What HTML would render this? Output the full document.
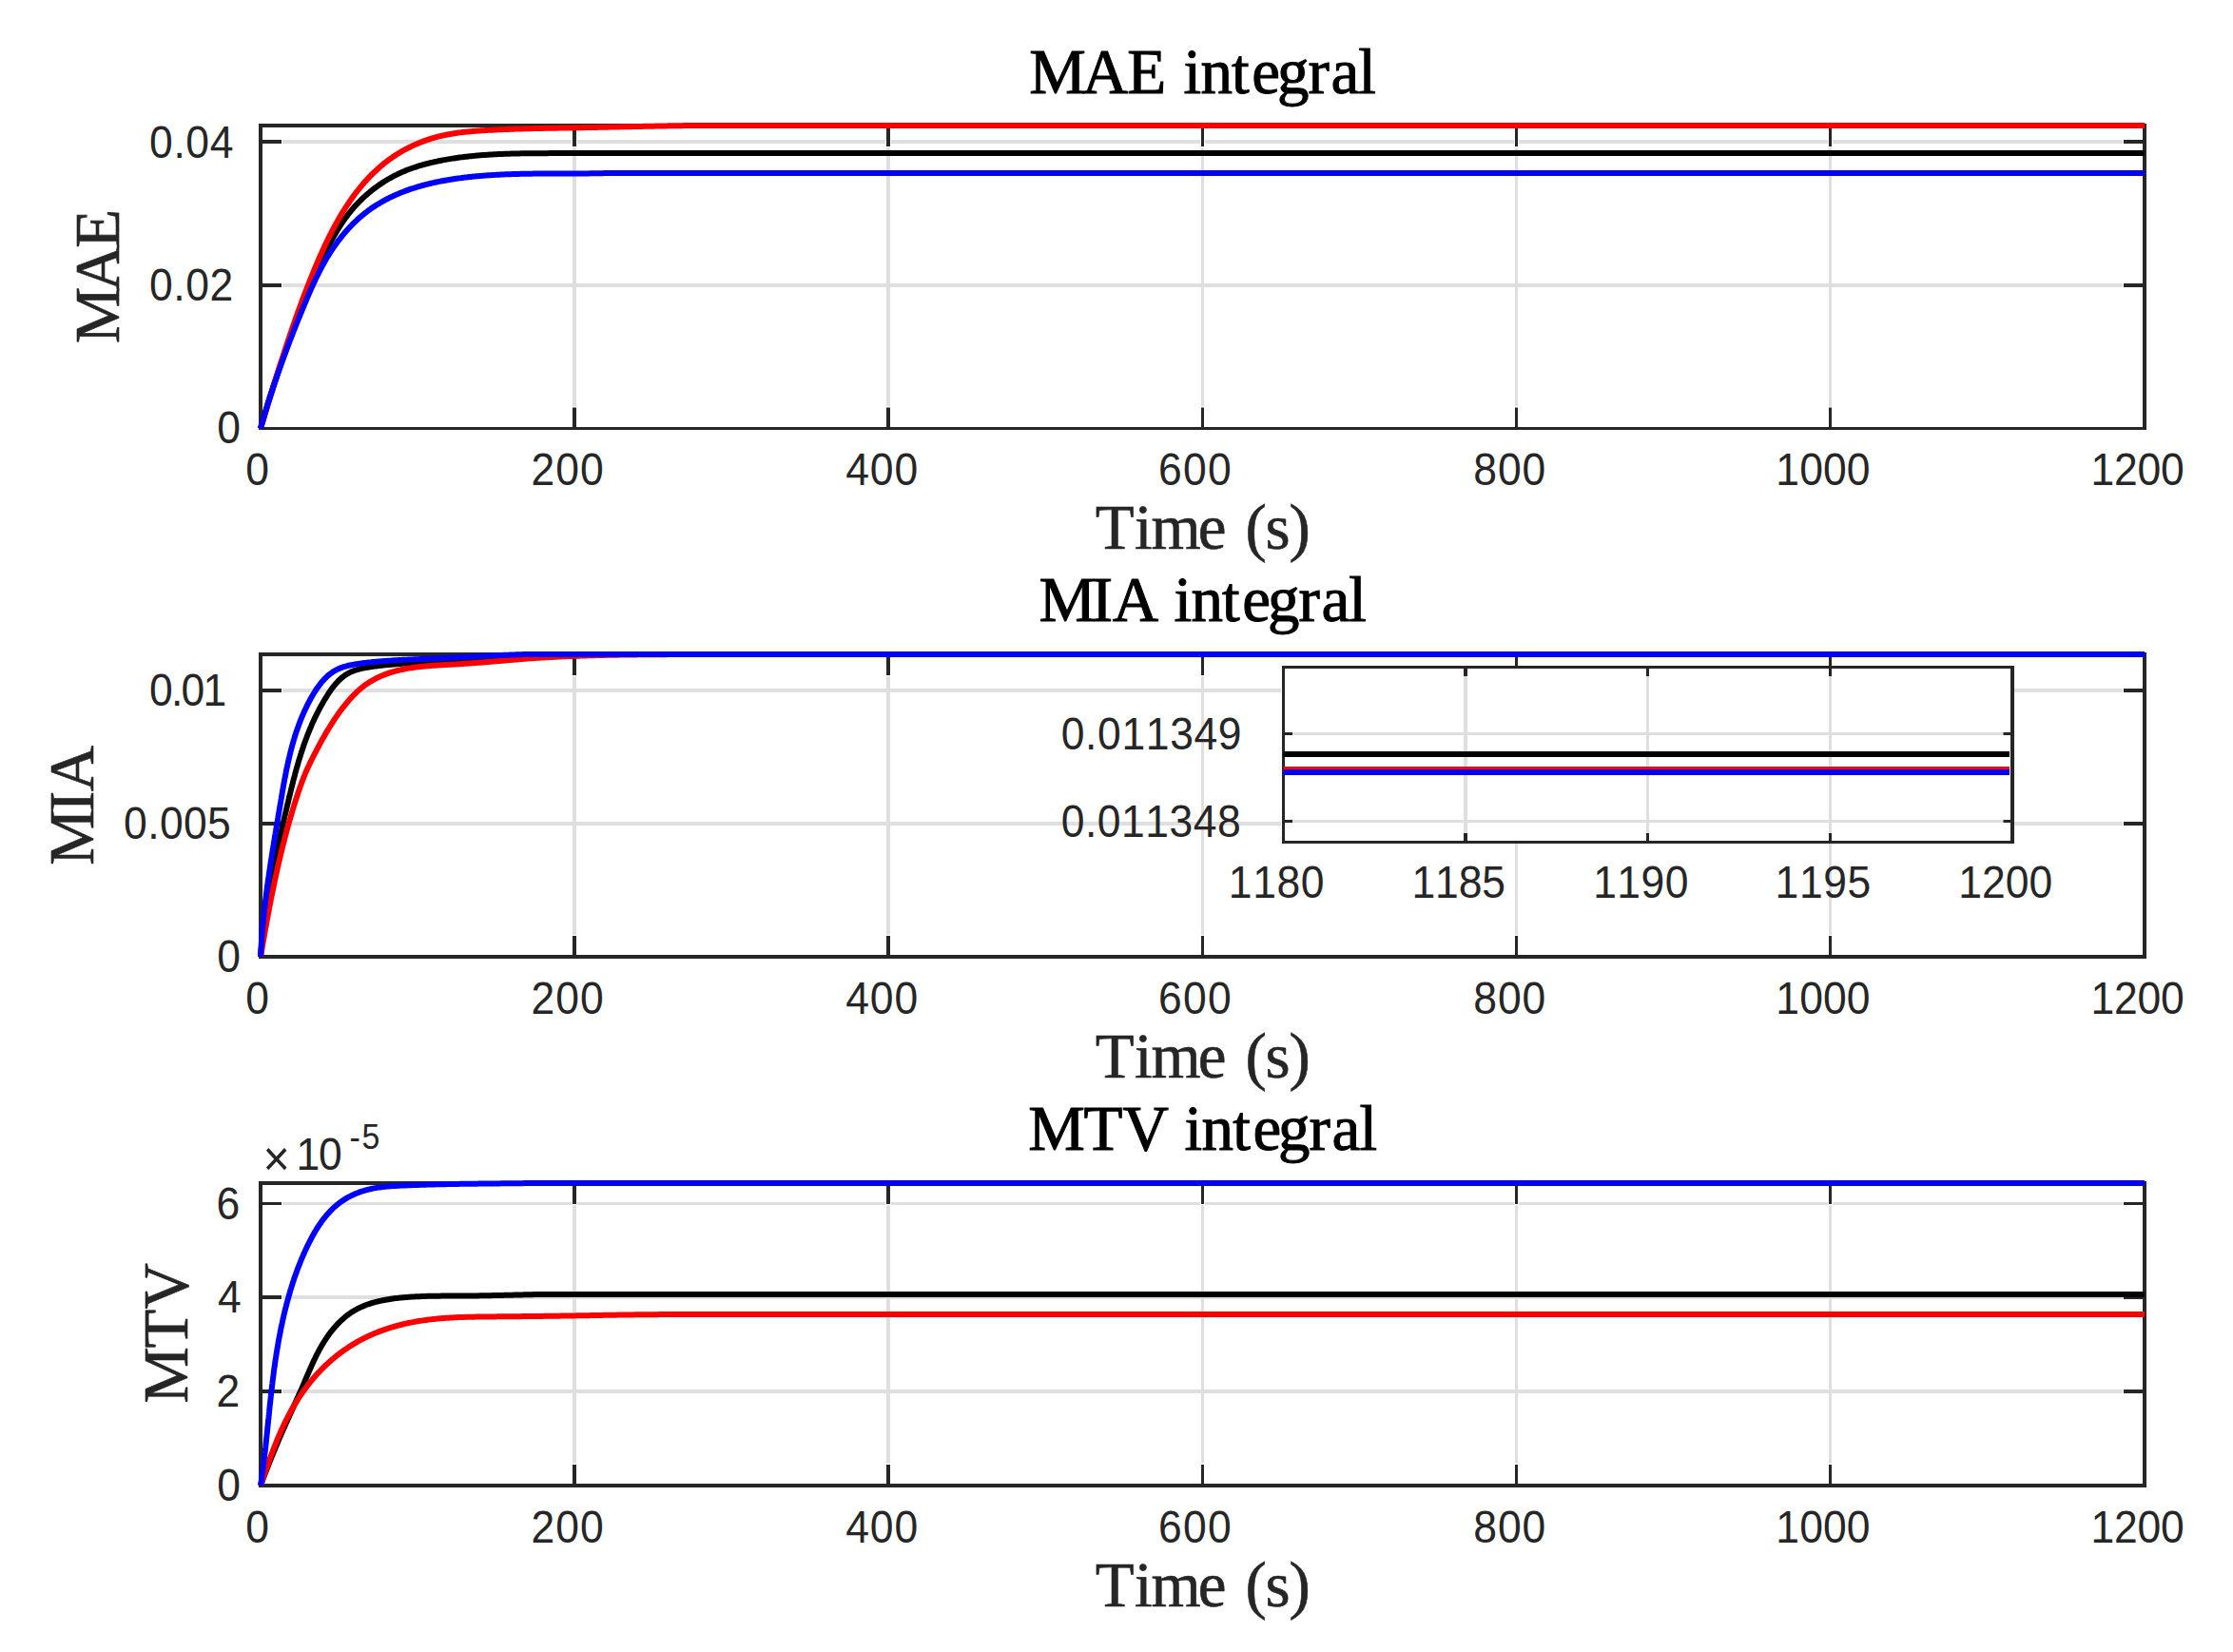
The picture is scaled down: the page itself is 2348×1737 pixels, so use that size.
<!DOCTYPE html>
<html lang="en"><head><meta charset="utf-8"><title>MAE / MIA / MTV integral</title>
<style>html,body{margin:0;padding:0;background:#fff}svg{display:block}</style></head>
<body>
<svg width="2348" height="1737" viewBox="0 0 2348 1737">
<rect width="2348" height="1737" fill="#fff"/>
<g id="ax1">
<path d="M1264.5,132V450.5 M1594.5,132V450.5 M1924.5,132V450.5" stroke="#dfdfdf" stroke-width="3" fill="none"/>
<path d="M604.0,132V450.5 M934.0,132V450.5 M274.0,300H2255.0 M274.0,149H2255.0" stroke="#dfdfdf" stroke-width="4" fill="none"/>
<path d="M1264.5,450.5v-23.2 M1264.5,132v23.2 M1594.5,450.5v-23.2 M1594.5,132v23.2 M1924.5,450.5v-23.2 M1924.5,132v23.2" stroke="#fff" stroke-width="4.6" fill="none"/>
<path d="M604.0,450.5v-23.2 M604.0,132v23.2 M934.0,450.5v-23.2 M934.0,132v23.2 M274.0,300h22.8 M2255.0,300h-22.8 M274.0,149h22.8 M2255.0,149h-22.8" stroke="#fff" stroke-width="5.6" fill="none"/>
<path d="M272.0,132H2257.0M274.0,132V452.0M2255.0,132V452.0" stroke="#262626" stroke-width="4" fill="none"/>
<path d="M272.0,450.5H2257.0" stroke="#262626" stroke-width="3" fill="none"/>
<path d="M1264.5,450.5v-22.0 M1264.5,132v22.0 M1594.5,450.5v-22.0 M1594.5,132v22.0 M1924.5,450.5v-22.0 M1924.5,132v22.0" stroke="#262626" stroke-width="3" fill="none"/>
<path d="M604.0,450.5v-22.0 M604.0,132v22.0 M934.0,450.5v-22.0 M934.0,132v22.0 M274.0,300h22.0 M2255.0,300h-22.0 M274.0,149h22.0 M2255.0,149h-22.0" stroke="#262626" stroke-width="4" fill="none"/>
<path d="M274.0,450.50 274.4,449.05 274.8,447.61 275.2,446.16 275.6,444.71 276.0,443.27 276.4,441.83 276.9,440.39 277.3,438.95 277.7,437.51 278.1,436.07 278.5,434.63 279.0,433.19 279.4,431.76 279.8,430.32 280.3,428.89 280.7,427.45 281.1,426.02 281.6,424.59 282.0,423.16 282.4,421.73 282.9,420.30 283.3,418.87 283.8,417.45 284.2,416.02 284.7,414.59 285.1,413.17 285.6,411.75 286.1,410.32 286.5,408.90 287.0,407.48 287.4,406.06 287.9,404.64 288.4,403.22 288.8,401.80 289.3,400.38 289.8,398.96 290.3,397.55 290.7,396.13 291.2,394.72 291.7,393.30 292.2,391.89 292.6,390.48 293.1,389.06 293.6,387.65 294.1,386.24 294.6,384.83 295.1,383.42 295.6,382.01 296.1,380.60 296.6,379.19 297.1,377.78 297.5,376.38 298.0,374.97 298.5,373.56 299.0,372.16 299.5,370.75 300.1,369.34 300.6,367.94 301.1,366.54 301.6,365.13 302.1,363.73 302.6,362.33 303.1,360.92 303.6,359.52 304.1,358.12 304.6,356.72 305.2,355.32 305.7,353.92 306.2,352.51 306.7,351.11 307.2,349.71 307.8,348.32 308.3,346.92 308.8,345.52 309.3,344.12 309.9,342.72 310.4,341.32 310.9,339.92 311.5,338.53 312.0,337.13 312.5,335.73 313.0,334.33 313.6,332.94 314.1,331.54 314.7,330.14 315.2,328.75 315.7,327.35 316.3,325.96 316.8,324.56 317.3,323.16 317.9,321.77 318.4,320.37 319.0,318.98 319.5,317.58 320.1,316.19 320.6,314.79 321.2,313.40 321.7,312.01 322.3,310.61 322.8,309.22 323.4,307.83 323.9,306.44 324.5,305.05 325.1,303.66 325.6,302.27 326.2,300.89 326.8,299.50 327.3,298.11 327.9,296.73 328.5,295.34 329.1,293.96 329.7,292.58 330.2,291.20 330.8,289.82 331.4,288.44 332.0,287.06 332.6,285.69 333.2,284.31 333.8,282.94 334.4,281.57 335.1,280.20 335.7,278.83 336.3,277.46 336.9,276.10 337.6,274.73 338.2,273.37 338.8,272.01 339.5,270.65 340.1,269.29 340.8,267.93 341.5,266.58 342.1,265.23 342.8,263.88 343.5,262.53 344.1,261.19 344.8,259.84 345.5,258.50 346.2,257.17 346.9,255.83 347.6,254.50 348.3,253.18 349.1,251.86 349.8,250.54 350.5,249.23 351.3,247.92 352.0,246.61 352.8,245.32 353.6,244.02 354.3,242.74 355.1,241.46 355.9,240.18 356.7,238.91 357.5,237.65 358.3,236.40 359.1,235.15 360.0,233.91 360.8,232.68 361.7,231.45 362.5,230.24 363.4,229.03 364.3,227.83 365.2,226.64 366.1,225.46 367.0,224.28 367.9,223.12 368.9,221.96 369.8,220.82 370.8,219.69 371.7,218.56 372.7,217.45 373.7,216.35 374.7,215.25 375.7,214.17 376.7,213.10 377.8,212.04 378.8,210.99 379.9,209.95 380.9,208.92 382.0,207.91 383.1,206.90 384.2,205.90 385.3,204.92 386.4,203.95 387.5,202.99 388.7,202.04 389.8,201.10 391.0,200.18 392.1,199.26 393.3,198.36 394.5,197.47 395.7,196.59 396.9,195.73 398.1,194.87 399.3,194.03 400.5,193.20 401.7,192.39 403.0,191.58 404.2,190.79 405.5,190.02 406.7,189.25 408.0,188.50 409.3,187.76 410.6,187.03 411.9,186.32 413.2,185.62 414.5,184.94 415.8,184.26 417.2,183.61 418.5,182.96 419.8,182.33 421.2,181.71 422.5,181.11 423.9,180.52 425.3,179.94 426.6,179.38 428.0,178.83 429.4,178.29 430.8,177.76 432.2,177.25 433.6,176.75 435.0,176.26 436.5,175.78 437.9,175.32 439.3,174.86 440.7,174.42 442.2,173.99 443.6,173.56 445.0,173.15 446.5,172.75 447.9,172.36 449.4,171.98 450.9,171.61 452.3,171.25 453.8,170.90 455.3,170.56 456.7,170.23 458.2,169.90 459.7,169.59 461.1,169.28 462.6,168.98 464.1,168.69 465.6,168.41 467.1,168.13 468.6,167.87 470.0,167.61 471.5,167.35 473.0,167.11 474.5,166.87 476.0,166.63 477.5,166.41 479.0,166.19 480.5,165.97 482.0,165.77 483.4,165.57 484.9,165.37 486.4,165.18 487.9,165.00 489.4,164.82 490.9,164.65 492.4,164.48 493.9,164.32 495.4,164.17 496.9,164.02 498.4,163.87 499.9,163.73 501.4,163.60 502.8,163.47 504.3,163.34 505.8,163.22 507.3,163.10 508.8,162.99 510.3,162.89 511.8,162.78 513.3,162.68 514.8,162.59 516.3,162.50 517.8,162.41 519.3,162.33 520.8,162.25 522.3,162.18 523.8,162.11 525.3,162.04 526.8,161.97 528.3,161.91 529.8,161.85 531.3,161.80 532.8,161.75 534.3,161.70 535.8,161.65 537.3,161.61 538.7,161.57 540.2,161.53 541.7,161.49 543.2,161.46 544.7,161.43 546.2,161.40 547.7,161.37 549.2,161.35 550.7,161.32 552.2,161.30 553.7,161.28 555.2,161.26 556.7,161.25 558.2,161.23 559.7,161.22 561.2,161.21 562.7,161.19 564.2,161.18 565.7,161.17 567.2,161.17 568.7,161.16 570.2,161.15 571.7,161.14 573.2,161.14 574.6,161.13 576.1,161.13 577.6,161.12 579.1,161.12 580.6,161.11 582.1,161.11 583.6,161.10 585.1,161.09 586.6,161.09 588.1,161.08 589.6,161.07 591.1,161.07 592.6,161.06 594.0,161.05 595.5,161.04 597.0,161.03 598.5,161.01 600.0,161.00 2255.0,161.00" stroke="#000" stroke-width="6" fill="none" stroke-linejoin="round"/>
<path d="M274.0,450.50 274.4,449.04 274.9,447.57 275.3,446.11 275.8,444.65 276.2,443.20 276.7,441.74 277.1,440.28 277.6,438.83 278.0,437.38 278.4,435.92 278.9,434.47 279.3,433.02 279.8,431.58 280.2,430.13 280.6,428.68 281.1,427.24 281.5,425.79 282.0,424.35 282.4,422.91 282.8,421.47 283.3,420.03 283.7,418.59 284.2,417.16 284.6,415.72 285.1,414.29 285.5,412.85 285.9,411.42 286.4,409.99 286.8,408.56 287.3,407.13 287.7,405.70 288.1,404.27 288.6,402.84 289.0,401.41 289.5,399.99 289.9,398.56 290.4,397.14 290.8,395.72 291.3,394.30 291.7,392.87 292.1,391.45 292.6,390.03 293.0,388.61 293.5,387.20 293.9,385.78 294.4,384.36 294.8,382.95 295.3,381.53 295.7,380.12 296.2,378.70 296.7,377.29 297.1,375.88 297.6,374.46 298.0,373.05 298.5,371.64 298.9,370.23 299.4,368.82 299.9,367.41 300.3,366.00 300.8,364.59 301.3,363.19 301.7,361.78 302.2,360.37 302.7,358.97 303.1,357.56 303.6,356.15 304.1,354.75 304.5,353.34 305.0,351.94 305.5,350.54 306.0,349.13 306.5,347.73 306.9,346.33 307.4,344.92 307.9,343.52 308.4,342.12 308.9,340.72 309.4,339.32 309.9,337.91 310.3,336.51 310.8,335.11 311.3,333.71 311.8,332.31 312.3,330.91 312.8,329.51 313.3,328.11 313.8,326.71 314.4,325.31 314.9,323.91 315.4,322.51 315.9,321.11 316.4,319.71 316.9,318.31 317.4,316.91 318.0,315.51 318.5,314.11 319.0,312.72 319.5,311.32 320.1,309.92 320.6,308.52 321.1,307.12 321.7,305.72 322.2,304.32 322.8,302.92 323.3,301.52 323.9,300.12 324.4,298.71 325.0,297.31 325.5,295.91 326.1,294.51 326.6,293.11 327.2,291.71 327.8,290.31 328.3,288.90 328.9,287.50 329.5,286.10 330.1,284.70 330.6,283.29 331.2,281.89 331.8,280.49 332.4,279.09 333.0,277.68 333.6,276.28 334.2,274.88 334.8,273.48 335.4,272.09 336.0,270.69 336.6,269.29 337.2,267.90 337.9,266.50 338.5,265.11 339.1,263.72 339.8,262.33 340.4,260.95 341.0,259.56 341.7,258.18 342.3,256.80 343.0,255.42 343.6,254.04 344.3,252.67 345.0,251.30 345.6,249.93 346.3,248.57 347.0,247.21 347.7,245.85 348.4,244.49 349.1,243.14 349.8,241.79 350.5,240.45 351.2,239.11 351.9,237.77 352.7,236.44 353.4,235.11 354.1,233.78 354.9,232.46 355.6,231.15 356.4,229.84 357.1,228.53 357.9,227.23 358.6,225.93 359.4,224.64 360.2,223.35 361.0,222.07 361.8,220.79 362.6,219.52 363.4,218.26 364.2,217.00 365.0,215.75 365.9,214.50 366.7,213.26 367.5,212.02 368.4,210.79 369.2,209.57 370.1,208.35 371.0,207.15 371.8,205.94 372.7,204.75 373.6,203.56 374.5,202.38 375.4,201.20 376.3,200.04 377.3,198.88 378.2,197.72 379.1,196.58 380.1,195.44 381.0,194.32 382.0,193.20 382.9,192.08 383.9,190.98 384.9,189.88 385.9,188.80 386.9,187.72 387.9,186.65 388.9,185.59 389.9,184.54 391.0,183.49 392.0,182.46 393.1,181.44 394.1,180.42 395.2,179.42 396.3,178.42 397.4,177.44 398.5,176.46 399.6,175.50 400.7,174.54 401.8,173.60 402.9,172.66 404.1,171.74 405.2,170.82 406.4,169.92 407.6,169.03 408.7,168.15 409.9,167.28 411.1,166.42 412.4,165.57 413.6,164.74 414.8,163.91 416.0,163.10 417.3,162.30 418.6,161.51 419.8,160.73 421.1,159.97 422.4,159.22 423.7,158.47 425.0,157.75 426.3,157.03 427.7,156.33 429.0,155.64 430.4,154.96 431.7,154.29 433.1,153.64 434.4,153.00 435.8,152.38 437.2,151.76 438.6,151.16 440.0,150.58 441.4,150.01 442.8,149.45 444.2,148.90 445.6,148.37 447.0,147.85 448.5,147.34 449.9,146.85 451.3,146.38 452.8,145.91 454.2,145.47 455.7,145.03 457.1,144.61 458.6,144.21 460.1,143.82 461.5,143.44 463.0,143.08 464.4,142.73 465.9,142.40 467.4,142.08 468.9,141.78 470.3,141.48 471.8,141.20 473.3,140.94 474.8,140.68 476.3,140.44 477.8,140.21 479.2,139.98 480.7,139.77 482.2,139.57 483.7,139.38 485.2,139.19 486.7,139.02 488.2,138.85 489.7,138.69 491.2,138.54 492.7,138.40 494.2,138.26 495.7,138.13 497.2,138.00 498.7,137.88 500.2,137.76 501.7,137.65 503.2,137.55 504.7,137.44 506.2,137.34 507.7,137.25 509.2,137.15 510.7,137.06 512.2,136.97 513.7,136.88 515.2,136.80 516.7,136.71 518.2,136.63 519.7,136.55 521.2,136.48 522.7,136.40 524.2,136.33 525.7,136.26 527.2,136.19 528.7,136.13 530.2,136.06 531.7,136.00 533.2,135.94 534.7,135.88 536.2,135.83 537.7,135.77 539.2,135.72 540.7,135.66 542.2,135.61 543.7,135.57 545.2,135.52 546.7,135.47 548.2,135.43 549.7,135.38 551.1,135.34 552.6,135.30 554.1,135.26 555.6,135.22 557.1,135.18 558.6,135.15 560.1,135.11 561.6,135.08 563.1,135.05 564.6,135.01 566.1,134.98 567.6,134.95 569.1,134.92 570.6,134.89 572.1,134.86 573.6,134.83 575.1,134.81 576.6,134.78 578.1,134.75 579.6,134.73 581.1,134.70 582.6,134.68 584.1,134.65 585.6,134.63 587.1,134.60 588.6,134.58 590.1,134.55 591.6,134.53 593.1,134.50 594.6,134.48 596.1,134.46 597.6,134.43 599.1,134.41 600.6,134.38 602.0,134.36 603.5,134.33 605.0,134.31 606.5,134.28 608.0,134.26 609.5,134.23 611.0,134.20 612.5,134.18 614.0,134.15 615.5,134.12 617.0,134.09 618.5,134.06 620.0,134.04 621.5,134.01 623.0,133.98 624.5,133.95 626.0,133.92 627.5,133.89 629.0,133.86 630.5,133.83 632.0,133.80 633.5,133.77 635.0,133.74 636.5,133.71 638.0,133.67 639.5,133.64 641.0,133.61 642.5,133.58 644.0,133.55 645.5,133.52 647.0,133.49 648.5,133.45 650.0,133.42 651.5,133.39 653.0,133.36 654.5,133.33 656.0,133.29 657.5,133.26 659.0,133.23 660.5,133.20 662.0,133.17 663.5,133.14 665.0,133.10 666.5,133.07 668.0,133.04 669.5,133.01 671.0,132.98 672.5,132.95 674.0,132.92 675.5,132.89 677.0,132.86 678.5,132.82 680.0,132.79 681.5,132.76 683.0,132.73 684.5,132.70 686.0,132.68 687.5,132.65 689.0,132.62 690.5,132.59 692.0,132.56 693.5,132.53 695.0,132.50 696.5,132.48 698.0,132.45 699.5,132.42 701.0,132.40 702.5,132.37 704.0,132.34 705.5,132.32 707.0,132.29 708.5,132.27 710.0,132.24 711.5,132.22 713.0,132.20 714.5,132.18 716.0,132.15 717.5,132.13 719.0,132.11 720.5,132.09 722.0,132.07 723.5,132.05 725.0,132.03 726.5,132.01 728.0,132.00 729.5,132.00 731.0,132.00 732.5,132.00 734.0,132.00 735.5,132.00 737.0,132.00 738.5,132.00 740.0,132.00 741.5,132.00 743.0,132.00 744.5,132.00 746.0,132.00 747.5,132.00 749.0,132.00 750.5,132.00 752.0,132.00 753.5,132.00 755.0,132.00 756.5,132.00 758.0,132.00 759.5,132.00 761.0,132.00 762.5,132.00 764.0,132.00 765.5,132.00 767.0,132.00 768.5,132.00 770.0,132.00 771.5,132.00 773.0,132.00 774.5,132.00 776.0,132.00 777.5,132.00 779.0,132.00 780.5,132.00 782.0,132.00 783.5,132.00 785.0,132.00 786.5,132.00 788.0,132.00 789.5,132.00 791.0,132.00 792.5,132.00 794.0,132.00 795.5,132.00 797.0,132.00 798.5,132.00 800.0,132.00 2255.0,132.00" stroke="#f00" stroke-width="6" fill="none" stroke-linejoin="round"/>
<path d="M274.0,450.50 274.4,449.05 274.8,447.61 275.2,446.16 275.7,444.72 276.1,443.28 276.5,441.84 276.9,440.40 277.4,438.96 277.8,437.52 278.2,436.08 278.6,434.65 279.1,433.21 279.5,431.78 280.0,430.35 280.4,428.91 280.8,427.48 281.3,426.05 281.7,424.62 282.2,423.20 282.6,421.77 283.1,420.34 283.5,418.92 284.0,417.49 284.4,416.07 284.9,414.64 285.4,413.22 285.8,411.80 286.3,410.38 286.8,408.96 287.2,407.54 287.7,406.13 288.2,404.71 288.7,403.29 289.1,401.88 289.6,400.46 290.1,399.05 290.6,397.64 291.1,396.22 291.5,394.81 292.0,393.40 292.5,391.99 293.0,390.58 293.5,389.17 294.0,387.77 294.5,386.36 295.0,384.95 295.5,383.55 296.0,382.14 296.5,380.74 297.0,379.33 297.5,377.93 298.0,376.53 298.5,375.13 299.0,373.72 299.6,372.32 300.1,370.92 300.6,369.52 301.1,368.12 301.6,366.73 302.2,365.33 302.7,363.93 303.2,362.53 303.7,361.14 304.3,359.74 304.8,358.35 305.3,356.95 305.9,355.56 306.4,354.16 307.0,352.77 307.5,351.38 308.0,349.99 308.6,348.60 309.1,347.20 309.7,345.81 310.2,344.42 310.8,343.03 311.3,341.64 311.9,340.25 312.4,338.86 313.0,337.48 313.6,336.09 314.1,334.70 314.7,333.31 315.3,331.93 315.8,330.54 316.4,329.15 317.0,327.77 317.5,326.38 318.1,325.00 318.7,323.61 319.3,322.23 319.8,320.84 320.4,319.46 321.0,318.07 321.6,316.69 322.2,315.30 322.7,313.92 323.3,312.54 323.9,311.16 324.5,309.78 325.1,308.40 325.7,307.02 326.3,305.64 326.9,304.27 327.5,302.90 328.1,301.52 328.8,300.15 329.4,298.79 330.0,297.42 330.7,296.06 331.3,294.70 331.9,293.34 332.6,291.98 333.2,290.63 333.9,289.28 334.6,287.93 335.2,286.59 335.9,285.25 336.6,283.92 337.3,282.58 338.0,281.25 338.7,279.93 339.4,278.61 340.2,277.29 340.9,275.98 341.6,274.67 342.4,273.37 343.1,272.07 343.9,270.78 344.7,269.49 345.5,268.21 346.3,266.93 347.1,265.66 347.9,264.39 348.7,263.13 349.5,261.88 350.4,260.63 351.2,259.39 352.1,258.16 353.0,256.93 353.9,255.71 354.7,254.50 355.6,253.29 356.6,252.09 357.5,250.90 358.4,249.72 359.4,248.55 360.3,247.38 361.3,246.23 362.2,245.08 363.2,243.94 364.2,242.81 365.2,241.69 366.2,240.59 367.2,239.49 368.2,238.40 369.3,237.32 370.3,236.25 371.4,235.19 372.4,234.15 373.5,233.11 374.6,232.09 375.7,231.08 376.8,230.08 377.9,229.09 379.0,228.11 380.1,227.15 381.2,226.20 382.4,225.26 383.5,224.34 384.7,223.43 385.9,222.53 387.0,221.64 388.2,220.77 389.4,219.92 390.6,219.07 391.8,218.24 393.0,217.42 394.3,216.62 395.5,215.83 396.8,215.05 398.0,214.28 399.3,213.53 400.5,212.79 401.8,212.06 403.1,211.34 404.4,210.64 405.7,209.95 407.0,209.26 408.3,208.60 409.6,207.94 410.9,207.29 412.3,206.66 413.6,206.04 414.9,205.42 416.3,204.82 417.6,204.23 419.0,203.66 420.4,203.09 421.7,202.53 423.1,201.99 424.5,201.45 425.9,200.92 427.3,200.41 428.7,199.90 430.1,199.41 431.5,198.92 432.9,198.45 434.3,197.98 435.7,197.53 437.2,197.08 438.6,196.64 440.0,196.22 441.5,195.80 442.9,195.39 444.4,194.99 445.8,194.60 447.3,194.21 448.7,193.84 450.2,193.47 451.7,193.11 453.1,192.77 454.6,192.42 456.1,192.09 457.5,191.77 459.0,191.45 460.5,191.14 462.0,190.84 463.5,190.54 465.0,190.26 466.5,189.98 468.0,189.71 469.4,189.44 470.9,189.18 472.4,188.93 473.9,188.69 475.4,188.45 476.9,188.22 478.4,187.99 480.0,187.77 481.5,187.56 483.0,187.36 484.5,187.16 486.0,186.96 487.5,186.77 489.0,186.59 490.5,186.41 492.0,186.24 493.5,186.08 495.0,185.91 496.5,185.76 498.0,185.61 499.6,185.46 501.1,185.32 502.6,185.18 504.1,185.05 505.6,184.92 507.1,184.80 508.6,184.68 510.1,184.57 511.6,184.46 513.1,184.35 514.6,184.25 516.1,184.15 517.6,184.05 519.1,183.96 520.6,183.87 522.1,183.79 523.6,183.71 525.1,183.63 526.5,183.56 528.0,183.49 529.5,183.42 531.0,183.36 532.5,183.30 534.0,183.24 535.5,183.18 537.0,183.13 538.5,183.08 540.0,183.04 541.4,182.99 542.9,182.95 544.4,182.91 545.9,182.88 547.4,182.84 548.9,182.81 550.4,182.78 551.8,182.75 553.3,182.72 554.8,182.70 556.3,182.68 557.8,182.66 559.3,182.64 560.7,182.62 562.2,182.61 563.7,182.59 565.2,182.58 566.7,182.57 568.2,182.56 569.7,182.55 571.1,182.54 572.6,182.53 574.1,182.53 575.6,182.52 577.1,182.52 578.6,182.51 580.0,182.51 581.5,182.51 583.0,182.50 584.5,182.50 586.0,182.50 587.5,182.50 589.0,182.50 590.5,182.50 591.9,182.50 593.4,182.49 594.9,182.49 596.4,182.49 597.9,182.49 599.4,182.49 600.9,182.48 602.4,182.48 603.9,182.48 605.4,182.47 606.9,182.47 608.4,182.46 609.9,182.45 611.4,182.45 612.9,182.44 614.3,182.43 615.9,182.41 617.4,182.40 618.9,182.39 620.4,182.37 621.9,182.35 623.4,182.33 624.9,182.31 626.4,182.29 627.9,182.27 629.4,182.24 630.9,182.21 632.4,182.18 633.9,182.15 635.4,182.12 637.0,182.08 638.5,182.04 640.0,182.00 2255.0,182.00" stroke="#00f" stroke-width="6" fill="none" stroke-linejoin="round"/>
</g>
<g id="ax2">
<path d="M1264.5,688V1006 M1594.5,688V1006 M1924.5,688V1006" stroke="#dfdfdf" stroke-width="3" fill="none"/>
<path d="M604.0,688V1006 M934.0,688V1006 M274.0,866H2255.0 M274.0,726H2255.0" stroke="#dfdfdf" stroke-width="4" fill="none"/>
<path d="M1264.5,1006v-23.2 M1264.5,688v23.2 M1594.5,1006v-23.2 M1594.5,688v23.2 M1924.5,1006v-23.2 M1924.5,688v23.2" stroke="#fff" stroke-width="4.6" fill="none"/>
<path d="M604.0,1006v-23.2 M604.0,688v23.2 M934.0,1006v-23.2 M934.0,688v23.2 M274.0,866h22.8 M2255.0,866h-22.8 M274.0,726h22.8 M2255.0,726h-22.8" stroke="#fff" stroke-width="5.6" fill="none"/>
<path d="M272.0,688H2257.0M274.0,688V1008.0M2255.0,688V1008.0" stroke="#262626" stroke-width="4" fill="none"/>
<path d="M272.0,1006H2257.0" stroke="#262626" stroke-width="4" fill="none"/>
<path d="M1264.5,1006v-22.0 M1264.5,688v22.0 M1594.5,1006v-22.0 M1594.5,688v22.0 M1924.5,1006v-22.0 M1924.5,688v22.0" stroke="#262626" stroke-width="3" fill="none"/>
<path d="M604.0,1006v-22.0 M604.0,688v22.0 M934.0,1006v-22.0 M934.0,688v22.0 M274.0,866h22.0 M2255.0,866h-22.0 M274.0,726h22.0 M2255.0,726h-22.0" stroke="#262626" stroke-width="4" fill="none"/>
<path d="M274.0,1006.00 274.1,1004.49 274.3,1002.99 274.4,1001.48 274.5,999.98 274.7,998.48 274.8,996.98 274.9,995.48 275.1,993.98 275.2,992.48 275.4,990.98 275.6,989.49 275.7,987.99 275.9,986.50 276.1,985.00 276.2,983.51 276.4,982.02 276.6,980.53 276.8,979.04 276.9,977.55 277.1,976.07 277.3,974.58 277.5,973.10 277.7,971.61 277.9,970.13 278.1,968.65 278.3,967.16 278.5,965.68 278.7,964.20 278.9,962.72 279.2,961.25 279.4,959.77 279.6,958.29 279.8,956.82 280.0,955.34 280.3,953.87 280.5,952.39 280.7,950.92 281.0,949.45 281.2,947.97 281.4,946.50 281.7,945.03 281.9,943.56 282.2,942.09 282.4,940.62 282.7,939.15 282.9,937.69 283.2,936.22 283.5,934.75 283.7,933.28 284.0,931.82 284.2,930.35 284.5,928.89 284.8,927.42 285.1,925.96 285.3,924.50 285.6,923.03 285.9,921.57 286.2,920.11 286.4,918.64 286.7,917.18 287.0,915.72 287.3,914.26 287.6,912.80 287.9,911.34 288.2,909.88 288.5,908.42 288.8,906.96 289.1,905.50 289.4,904.04 289.7,902.58 290.0,901.12 290.3,899.66 290.6,898.20 290.9,896.74 291.2,895.28 291.5,893.82 291.8,892.37 292.1,890.91 292.4,889.45 292.8,887.99 293.1,886.53 293.4,885.07 293.7,883.62 294.0,882.16 294.4,880.70 294.7,879.24 295.0,877.78 295.3,876.32 295.7,874.86 296.0,873.40 296.3,871.95 296.6,870.49 297.0,869.03 297.3,867.57 297.6,866.11 298.0,864.65 298.3,863.19 298.6,861.73 299.0,860.27 299.3,858.81 299.6,857.35 300.0,855.88 300.3,854.42 300.7,852.96 301.0,851.50 301.3,850.04 301.7,848.57 302.0,847.11 302.4,845.65 302.7,844.18 303.1,842.72 303.4,841.25 303.7,839.79 304.1,838.33 304.4,836.86 304.8,835.40 305.2,833.94 305.5,832.47 305.9,831.01 306.2,829.55 306.6,828.09 306.9,826.63 307.3,825.17 307.7,823.71 308.1,822.25 308.4,820.79 308.8,819.33 309.2,817.88 309.6,816.42 310.0,814.97 310.3,813.51 310.7,812.06 311.1,810.61 311.5,809.16 311.9,807.71 312.4,806.27 312.8,804.82 313.2,803.38 313.6,801.94 314.0,800.50 314.5,799.06 314.9,797.62 315.3,796.19 315.8,794.76 316.2,793.33 316.7,791.90 317.1,790.47 317.6,789.05 318.1,787.62 318.6,786.20 319.0,784.79 319.5,783.37 320.0,781.96 320.5,780.55 321.0,779.14 321.5,777.74 322.1,776.34 322.6,774.94 323.1,773.54 323.7,772.15 324.2,770.76 324.8,769.37 325.3,767.99 325.9,766.61 326.5,765.23 327.1,763.86 327.6,762.48 328.2,761.12 328.8,759.75 329.5,758.39 330.1,757.04 330.7,755.68 331.3,754.33 332.0,752.99 332.7,751.65 333.3,750.31 334.0,748.98 334.7,747.65 335.4,746.32 336.1,745.00 336.8,743.68 337.5,742.37 338.2,741.06 339.0,739.76 339.7,738.46 340.5,737.16 341.2,735.87 342.0,734.59 342.8,733.30 343.6,732.03 344.4,730.76 345.2,729.50 346.0,728.24 346.9,727.00 347.7,725.77 348.6,724.55 349.5,723.35 350.4,722.17 351.3,721.01 352.3,719.87 353.2,718.75 354.2,717.66 355.2,716.59 356.2,715.55 357.3,714.55 358.3,713.57 359.4,712.63 360.5,711.72 361.7,710.85 362.8,710.02 364.0,709.22 365.2,708.48 366.5,707.77 367.7,707.11 369.0,706.49 370.4,705.92 371.7,705.39 373.1,704.90 374.5,704.44 375.9,704.01 377.3,703.62 378.8,703.25 380.2,702.91 381.7,702.59 383.2,702.30 384.7,702.02 386.2,701.76 387.7,701.52 389.2,701.28 390.7,701.06 392.2,700.84 393.7,700.63 395.2,700.43 396.7,700.23 398.2,700.05 399.7,699.87 401.2,699.69 402.7,699.53 404.2,699.37 405.7,699.21 407.2,699.06 408.7,698.92 410.2,698.79 411.7,698.65 413.2,698.53 414.7,698.41 416.2,698.29 417.7,698.18 419.2,698.07 420.7,697.96 422.2,697.86 423.7,697.76 425.2,697.67 426.7,697.58 428.2,697.49 429.7,697.40 431.2,697.32 432.7,697.23 434.2,697.15 435.7,697.07 437.2,697.00 438.7,696.92 440.2,696.85 441.7,696.77 443.2,696.70 444.7,696.62 446.2,696.55 447.7,696.47 449.2,696.40 450.7,696.32 452.2,696.25 453.7,696.17 455.2,696.09 456.7,696.01 458.2,695.93 459.7,695.85 461.2,695.76 462.7,695.67 464.2,695.58 465.7,695.48 467.2,695.39 468.6,695.29 470.1,695.19 471.6,695.08 473.1,694.98 474.6,694.87 476.1,694.76 477.6,694.64 479.1,694.53 480.6,694.41 482.1,694.29 483.6,694.17 485.1,694.05 486.5,693.93 488.0,693.81 489.5,693.68 491.0,693.56 492.5,693.43 494.0,693.30 495.5,693.17 497.0,693.04 498.5,692.91 500.0,692.78 501.4,692.65 502.9,692.52 504.4,692.39 505.9,692.26 507.4,692.13 508.9,692.00 510.4,691.86 511.9,691.73 513.4,691.60 514.8,691.47 516.3,691.34 517.8,691.21 519.3,691.09 520.8,690.96 522.3,690.83 523.8,690.71 525.3,690.58 526.8,690.46 528.2,690.34 529.7,690.22 531.2,690.10 532.7,689.98 534.2,689.87 535.7,689.76 537.2,689.65 538.7,689.54 540.2,689.43 541.6,689.32 543.1,689.22 544.6,689.12 546.1,689.02 547.6,688.93 549.1,688.84 550.6,688.75 552.1,688.66 553.6,688.58 555.1,688.50 556.6,688.42 558.1,688.34 559.5,688.27 561.0,688.21 562.5,688.14 564.0,688.08 565.5,688.03 567.0,688.00 568.5,688.00 570.0,688.00 571.5,688.00 573.0,688.00 574.5,688.00 576.0,688.00 577.5,688.00 579.0,688.00 580.5,688.00 582.0,688.00 583.5,688.00 585.0,688.00 586.5,688.00 588.0,688.00 589.5,688.00 591.0,688.00 592.5,688.00 594.0,688.00 595.5,688.00 597.0,688.00 598.5,688.00 600.0,688.00 2255.0,688.00" stroke="#000" stroke-width="6" fill="none" stroke-linejoin="round"/>
<path d="M274.0,1006.00 274.3,1004.53 274.5,1003.05 274.8,1001.58 275.0,1000.11 275.3,998.63 275.5,997.16 275.8,995.68 276.0,994.21 276.3,992.74 276.5,991.26 276.8,989.79 277.0,988.31 277.3,986.84 277.6,985.36 277.8,983.89 278.1,982.42 278.3,980.94 278.6,979.47 278.9,977.99 279.1,976.52 279.4,975.05 279.7,973.57 279.9,972.10 280.2,970.63 280.5,969.15 280.7,967.68 281.0,966.21 281.3,964.73 281.6,963.26 281.8,961.79 282.1,960.32 282.4,958.84 282.7,957.37 282.9,955.90 283.2,954.43 283.5,952.96 283.8,951.48 284.1,950.01 284.4,948.54 284.6,947.07 284.9,945.60 285.2,944.13 285.5,942.66 285.8,941.19 286.1,939.72 286.4,938.25 286.7,936.79 287.0,935.32 287.3,933.85 287.6,932.38 287.9,930.92 288.2,929.45 288.5,927.98 288.8,926.52 289.1,925.05 289.5,923.59 289.8,922.12 290.1,920.66 290.4,919.19 290.7,917.73 291.1,916.27 291.4,914.81 291.7,913.34 292.0,911.88 292.4,910.42 292.7,908.96 293.0,907.50 293.4,906.04 293.7,904.58 294.0,903.13 294.4,901.67 294.7,900.21 295.1,898.76 295.4,897.30 295.8,895.84 296.1,894.39 296.5,892.94 296.9,891.48 297.2,890.03 297.6,888.58 297.9,887.13 298.3,885.67 298.7,884.22 299.1,882.78 299.4,881.33 299.8,879.88 300.2,878.43 300.6,876.98 301.0,875.54 301.3,874.09 301.7,872.65 302.1,871.21 302.5,869.76 302.9,868.32 303.3,866.88 303.7,865.44 304.1,864.00 304.5,862.56 305.0,861.12 305.4,859.69 305.8,858.25 306.2,856.82 306.6,855.38 307.1,853.95 307.5,852.51 307.9,851.08 308.4,849.65 308.8,848.22 309.2,846.79 309.7,845.36 310.1,843.94 310.6,842.51 311.0,841.09 311.5,839.66 312.0,838.24 312.4,836.82 312.9,835.40 313.4,833.98 313.8,832.56 314.3,831.14 314.8,829.72 315.3,828.31 315.8,826.90 316.3,825.49 316.8,824.08 317.3,822.67 317.8,821.27 318.3,819.88 318.9,818.48 319.4,817.09 320.0,815.71 320.6,814.33 321.1,812.95 321.7,811.58 322.3,810.21 322.9,808.85 323.6,807.49 324.2,806.14 324.8,804.78 325.5,803.44 326.1,802.09 326.8,800.75 327.4,799.40 328.1,798.06 328.8,796.72 329.4,795.39 330.1,794.05 330.8,792.72 331.5,791.38 332.2,790.05 332.9,788.72 333.6,787.40 334.3,786.07 335.0,784.75 335.7,783.43 336.4,782.12 337.1,780.80 337.8,779.49 338.5,778.18 339.3,776.87 340.0,775.57 340.8,774.27 341.5,772.97 342.2,771.67 343.0,770.38 343.8,769.09 344.5,767.81 345.3,766.53 346.1,765.25 346.9,763.97 347.7,762.70 348.4,761.43 349.3,760.17 350.1,758.91 350.9,757.66 351.7,756.41 352.5,755.17 353.4,753.93 354.2,752.70 355.1,751.47 355.9,750.25 356.8,749.03 357.7,747.82 358.6,746.62 359.5,745.43 360.4,744.24 361.3,743.06 362.2,741.88 363.2,740.72 364.1,739.56 365.1,738.41 366.1,737.27 367.0,736.13 368.0,735.01 369.1,733.89 370.1,732.79 371.1,731.69 372.2,730.61 373.2,729.54 374.3,728.48 375.4,727.44 376.5,726.42 377.6,725.41 378.7,724.43 379.9,723.46 381.1,722.51 382.2,721.59 383.4,720.69 384.6,719.81 385.9,718.96 387.1,718.13 388.4,717.33 389.6,716.55 390.9,715.79 392.2,715.05 393.5,714.34 394.8,713.65 396.1,712.98 397.4,712.33 398.8,711.71 400.1,711.10 401.5,710.52 402.8,709.96 404.2,709.42 405.6,708.90 406.9,708.40 408.3,707.91 409.7,707.45 411.1,707.00 412.5,706.58 413.9,706.16 415.3,705.77 416.7,705.39 418.2,705.03 419.6,704.68 421.0,704.35 422.5,704.03 423.9,703.73 425.4,703.44 426.8,703.16 428.3,702.90 429.7,702.65 431.2,702.41 432.7,702.18 434.2,701.96 435.6,701.76 437.1,701.56 438.6,701.37 440.1,701.20 441.6,701.03 443.1,700.87 444.6,700.72 446.1,700.57 447.6,700.44 449.1,700.30 450.6,700.18 452.1,700.06 453.6,699.95 455.1,699.84 456.6,699.74 458.1,699.64 459.6,699.54 461.1,699.45 462.7,699.36 464.2,699.27 465.7,699.19 467.2,699.11 468.7,699.02 470.2,698.94 471.7,698.86 473.3,698.78 474.8,698.69 476.3,698.61 477.8,698.52 479.3,698.44 480.8,698.35 482.3,698.25 483.8,698.16 485.3,698.06 486.8,697.96 488.3,697.86 489.9,697.76 491.4,697.65 492.9,697.55 494.4,697.44 495.9,697.33 497.3,697.22 498.8,697.10 500.3,696.99 501.8,696.87 503.3,696.76 504.8,696.64 506.3,696.52 507.8,696.40 509.3,696.28 510.8,696.16 512.3,696.03 513.8,695.91 515.3,695.79 516.7,695.66 518.2,695.54 519.7,695.41 521.2,695.29 522.7,695.16 524.2,695.04 525.7,694.91 527.2,694.78 528.6,694.66 530.1,694.53 531.6,694.41 533.1,694.28 534.6,694.16 536.1,694.03 537.5,693.91 539.0,693.78 540.5,693.66 542.0,693.54 543.5,693.42 545.0,693.30 546.5,693.18 547.9,693.06 549.4,692.95 550.9,692.83 552.4,692.72 553.9,692.60 555.4,692.49 556.9,692.38 558.3,692.28 559.8,692.17 561.3,692.07 562.8,691.96 564.3,691.86 565.8,691.76 567.3,691.67 568.8,691.57 570.3,691.48 571.7,691.39 573.2,691.30 574.7,691.21 576.2,691.13 577.7,691.04 579.2,690.96 580.7,690.88 582.2,690.80 583.7,690.72 585.2,690.65 586.7,690.57 588.2,690.50 589.7,690.43 591.2,690.36 592.7,690.29 594.2,690.22 595.6,690.16 597.1,690.10 598.6,690.03 600.1,689.97 601.6,689.91 603.1,689.86 604.6,689.80 606.1,689.74 607.6,689.69 609.1,689.64 610.6,689.59 612.1,689.54 613.6,689.49 615.1,689.44 616.6,689.40 618.1,689.35 619.6,689.31 621.1,689.26 622.6,689.22 624.1,689.18 625.6,689.14 627.1,689.10 628.6,689.07 630.1,689.03 631.6,689.00 633.1,688.96 634.6,688.93 636.1,688.90 637.6,688.87 639.1,688.84 640.6,688.81 642.1,688.78 643.6,688.75 645.1,688.72 646.6,688.70 648.1,688.67 649.6,688.65 651.2,688.62 652.7,688.60 654.2,688.58 655.7,688.56 657.2,688.53 658.7,688.51 660.2,688.49 661.7,688.48 663.2,688.46 664.7,688.44 666.2,688.42 667.7,688.41 669.2,688.39 670.7,688.37 672.2,688.36 673.7,688.34 675.2,688.33 676.7,688.31 678.2,688.30 679.7,688.29 681.2,688.27 682.6,688.26 684.1,688.25 685.6,688.24 687.1,688.23 688.6,688.22 690.1,688.20 691.6,688.19 693.1,688.18 694.6,688.17 696.1,688.16 697.6,688.15 699.1,688.14 700.6,688.13 702.1,688.12 703.6,688.11 705.1,688.10 706.6,688.09 708.1,688.08 709.6,688.07 711.1,688.06 712.5,688.05 714.0,688.04 715.5,688.03 717.0,688.02 718.5,688.01 720.0,688.00 2255.0,688.00" stroke="#f00" stroke-width="6" fill="none" stroke-linejoin="round"/>
<path d="M274.0,1006.00 274.1,1004.49 274.1,1002.98 274.2,1001.47 274.3,999.96 274.4,998.45 274.5,996.95 274.6,995.44 274.7,993.94 274.8,992.44 274.9,990.94 275.0,989.43 275.1,987.94 275.2,986.44 275.3,984.94 275.4,983.44 275.5,981.95 275.7,980.45 275.8,978.96 275.9,977.46 276.0,975.97 276.2,974.48 276.3,972.99 276.5,971.50 276.6,970.01 276.7,968.52 276.9,967.03 277.0,965.55 277.2,964.06 277.3,962.57 277.5,961.09 277.7,959.60 277.8,958.12 278.0,956.64 278.2,955.15 278.3,953.67 278.5,952.19 278.7,950.71 278.9,949.23 279.0,947.75 279.2,946.27 279.4,944.79 279.6,943.32 279.8,941.84 280.0,940.36 280.1,938.88 280.3,937.41 280.5,935.93 280.7,934.46 280.9,932.98 281.1,931.50 281.3,930.03 281.5,928.56 281.7,927.08 281.9,925.61 282.2,924.13 282.4,922.66 282.6,921.19 282.8,919.71 283.0,918.24 283.2,916.77 283.4,915.30 283.7,913.82 283.9,912.35 284.1,910.88 284.3,909.41 284.5,907.94 284.8,906.47 285.0,904.99 285.2,903.52 285.5,902.05 285.7,900.58 285.9,899.11 286.1,897.63 286.4,896.16 286.6,894.69 286.8,893.22 287.1,891.75 287.3,890.27 287.6,888.80 287.8,887.33 288.0,885.86 288.3,884.38 288.5,882.91 288.8,881.44 289.0,879.96 289.2,878.49 289.5,877.01 289.7,875.54 290.0,874.06 290.2,872.59 290.5,871.11 290.7,869.64 291.0,868.16 291.2,866.68 291.4,865.21 291.7,863.73 291.9,862.25 292.2,860.77 292.4,859.29 292.7,857.81 292.9,856.33 293.2,854.85 293.4,853.37 293.7,851.89 293.9,850.41 294.2,848.92 294.4,847.44 294.7,845.96 294.9,844.47 295.2,842.99 295.4,841.50 295.7,840.02 295.9,838.53 296.2,837.04 296.4,835.56 296.7,834.07 296.9,832.59 297.2,831.10 297.4,829.62 297.7,828.13 298.0,826.65 298.2,825.16 298.5,823.68 298.8,822.20 299.0,820.72 299.3,819.23 299.6,817.75 299.9,816.27 300.2,814.79 300.5,813.32 300.7,811.84 301.0,810.36 301.3,808.89 301.6,807.42 302.0,805.94 302.3,804.47 302.6,803.00 302.9,801.54 303.2,800.07 303.6,798.61 303.9,797.14 304.3,795.68 304.6,794.22 305.0,792.77 305.3,791.31 305.7,789.86 306.1,788.41 306.4,786.96 306.8,785.51 307.2,784.07 307.6,782.63 308.0,781.19 308.4,779.75 308.8,778.32 309.3,776.89 309.7,775.46 310.1,774.03 310.6,772.61 311.1,771.19 311.5,769.77 312.0,768.36 312.5,766.95 313.0,765.54 313.5,764.14 314.0,762.74 314.5,761.34 315.0,759.94 315.6,758.55 316.1,757.17 316.7,755.78 317.2,754.40 317.8,753.03 318.4,751.66 319.0,750.29 319.6,748.92 320.2,747.57 320.8,746.21 321.4,744.86 322.1,743.51 322.8,742.17 323.4,740.83 324.1,739.50 324.8,738.17 325.5,736.84 326.2,735.52 326.9,734.21 327.7,732.90 328.4,731.59 329.2,730.29 330.0,729.00 330.8,727.72 331.6,726.45 332.4,725.19 333.2,723.94 334.1,722.71 335.0,721.49 335.9,720.30 336.8,719.12 337.7,717.96 338.6,716.83 339.6,715.72 340.6,714.63 341.6,713.57 342.6,712.54 343.6,711.54 344.7,710.57 345.8,709.63 346.9,708.73 348.1,707.86 349.2,707.03 350.4,706.24 351.6,705.49 352.9,704.78 354.1,704.11 355.4,703.49 356.7,702.90 358.1,702.36 359.4,701.85 360.8,701.37 362.2,700.93 363.7,700.52 365.1,700.13 366.5,699.78 368.0,699.45 369.5,699.14 371.0,698.85 372.5,698.58 374.0,698.33 375.5,698.09 377.0,697.87 378.5,697.66 380.0,697.46 381.5,697.26 383.0,697.07 384.5,696.89 386.0,696.72 387.6,696.55 389.1,696.38 390.6,696.23 392.1,696.07 393.6,695.93 395.1,695.78 396.6,695.65 398.1,695.51 399.6,695.39 401.1,695.26 402.6,695.15 404.1,695.03 405.6,694.92 407.1,694.82 408.6,694.71 410.1,694.62 411.6,694.52 413.1,694.43 414.6,694.34 416.1,694.25 417.6,694.17 419.1,694.09 420.6,694.01 422.1,693.94 423.6,693.87 425.1,693.79 426.6,693.73 428.1,693.66 429.6,693.59 431.1,693.53 432.6,693.47 434.1,693.40 435.6,693.34 437.1,693.28 438.6,693.22 440.1,693.16 441.6,693.10 443.1,693.05 444.6,692.99 446.1,692.93 447.6,692.87 449.0,692.81 450.5,692.75 452.0,692.69 453.5,692.63 455.0,692.56 456.5,692.50 458.0,692.43 459.5,692.37 461.0,692.30 462.5,692.23 464.0,692.16 465.5,692.09 467.0,692.02 468.5,691.94 470.0,691.87 471.4,691.80 472.9,691.72 474.4,691.65 475.9,691.57 477.4,691.50 478.9,691.42 480.4,691.34 481.9,691.26 483.4,691.18 484.9,691.11 486.4,691.03 487.9,690.95 489.4,690.87 490.9,690.79 492.3,690.71 493.8,690.63 495.3,690.55 496.8,690.47 498.3,690.39 499.8,690.32 501.3,690.24 502.8,690.16 504.3,690.08 505.8,690.00 507.3,689.93 508.8,689.85 510.3,689.77 511.8,689.70 513.2,689.62 514.7,689.55 516.2,689.48 517.7,689.40 519.2,689.33 520.7,689.26 522.2,689.19 523.7,689.12 525.2,689.05 526.7,688.98 528.2,688.92 529.7,688.85 531.2,688.79 532.7,688.73 534.2,688.67 535.7,688.61 537.1,688.55 538.6,688.49 540.1,688.44 541.6,688.38 543.1,688.33 544.6,688.28 546.1,688.23 547.6,688.18 549.1,688.14 550.6,688.09 552.1,688.05 553.6,688.01 555.1,688.00 556.6,688.00 558.1,688.00 559.6,688.00 561.1,688.00 562.6,688.00 564.1,688.00 565.6,688.00 567.1,688.00 568.5,688.00 570.0,688.00 571.5,688.00 573.0,688.00 574.5,688.00 576.0,688.00 577.5,688.00 579.0,688.00 580.5,688.00 582.0,688.00 583.5,688.00 585.0,688.00 586.5,688.00 588.0,688.00 589.5,688.00 591.0,688.00 592.5,688.00 594.0,688.00 595.5,688.00 597.0,688.00 598.5,688.00 600.0,688.00 2255.0,688.00" stroke="#00f" stroke-width="6" fill="none" stroke-linejoin="round"/>
</g>
<g id="ax3">
<path d="M1264.5,1244V1562 M1594.5,1244V1562 M1924.5,1244V1562 M274.0,1265.5H2255.0" stroke="#dfdfdf" stroke-width="3" fill="none"/>
<path d="M604.0,1244V1562 M934.0,1244V1562 M274.0,1463H2255.0 M274.0,1364H2255.0" stroke="#dfdfdf" stroke-width="4" fill="none"/>
<path d="M1264.5,1562v-23.2 M1264.5,1244v23.2 M1594.5,1562v-23.2 M1594.5,1244v23.2 M1924.5,1562v-23.2 M1924.5,1244v23.2 M274.0,1265.5h22.8 M2255.0,1265.5h-22.8" stroke="#fff" stroke-width="4.6" fill="none"/>
<path d="M604.0,1562v-23.2 M604.0,1244v23.2 M934.0,1562v-23.2 M934.0,1244v23.2 M274.0,1463h22.8 M2255.0,1463h-22.8 M274.0,1364h22.8 M2255.0,1364h-22.8" stroke="#fff" stroke-width="5.6" fill="none"/>
<path d="M272.0,1244H2257.0M274.0,1244V1564.0M2255.0,1244V1564.0" stroke="#262626" stroke-width="4" fill="none"/>
<path d="M272.0,1562H2257.0" stroke="#262626" stroke-width="4" fill="none"/>
<path d="M1264.5,1562v-22.0 M1264.5,1244v22.0 M1594.5,1562v-22.0 M1594.5,1244v22.0 M1924.5,1562v-22.0 M1924.5,1244v22.0 M274.0,1265.5h22.0 M2255.0,1265.5h-22.0" stroke="#262626" stroke-width="3" fill="none"/>
<path d="M604.0,1562v-22.0 M604.0,1244v22.0 M934.0,1562v-22.0 M934.0,1244v22.0 M274.0,1463h22.0 M2255.0,1463h-22.0 M274.0,1364h22.0 M2255.0,1364h-22.0" stroke="#262626" stroke-width="4" fill="none"/>
<path d="M274.0,1562.00 274.5,1560.59 275.0,1559.18 275.6,1557.77 276.1,1556.36 276.6,1554.95 277.1,1553.55 277.7,1552.14 278.2,1550.74 278.7,1549.33 279.3,1547.93 279.8,1546.53 280.4,1545.13 280.9,1543.73 281.5,1542.33 282.0,1540.93 282.6,1539.53 283.1,1538.14 283.7,1536.74 284.2,1535.35 284.8,1533.96 285.4,1532.57 285.9,1531.18 286.5,1529.79 287.1,1528.40 287.6,1527.01 288.2,1525.63 288.8,1524.25 289.3,1522.86 289.9,1521.48 290.5,1520.10 291.1,1518.73 291.7,1517.35 292.3,1515.97 292.8,1514.60 293.4,1513.23 294.0,1511.85 294.6,1510.48 295.2,1509.12 295.8,1507.75 296.4,1506.38 297.0,1505.02 297.6,1503.66 298.2,1502.29 298.8,1500.93 299.4,1499.57 300.0,1498.22 300.6,1496.86 301.3,1495.50 301.9,1494.14 302.5,1492.79 303.1,1491.43 303.7,1490.08 304.3,1488.72 304.9,1487.37 305.5,1486.01 306.2,1484.65 306.8,1483.30 307.4,1481.94 308.0,1480.59 308.6,1479.23 309.2,1477.87 309.8,1476.51 310.5,1475.16 311.1,1473.80 311.7,1472.43 312.3,1471.07 312.9,1469.71 313.5,1468.35 314.1,1466.98 314.7,1465.61 315.3,1464.24 315.9,1462.87 316.6,1461.50 317.2,1460.13 317.8,1458.75 318.4,1457.37 319.0,1455.99 319.6,1454.61 320.2,1453.22 320.7,1451.84 321.3,1450.45 321.9,1449.06 322.5,1447.67 323.1,1446.28 323.7,1444.89 324.3,1443.50 324.9,1442.11 325.5,1440.72 326.1,1439.33 326.8,1437.94 327.4,1436.56 328.0,1435.17 328.6,1433.79 329.3,1432.42 329.9,1431.04 330.5,1429.67 331.2,1428.30 331.9,1426.94 332.5,1425.58 333.2,1424.23 333.9,1422.88 334.6,1421.54 335.3,1420.20 336.0,1418.87 336.8,1417.54 337.5,1416.22 338.3,1414.91 339.0,1413.61 339.8,1412.31 340.6,1411.02 341.4,1409.75 342.2,1408.48 343.1,1407.22 343.9,1405.97 344.8,1404.74 345.6,1403.51 346.5,1402.30 347.4,1401.10 348.3,1399.91 349.3,1398.74 350.2,1397.58 351.2,1396.44 352.1,1395.32 353.1,1394.20 354.1,1393.11 355.1,1392.03 356.2,1390.97 357.2,1389.93 358.3,1388.91 359.3,1387.91 360.4,1386.92 361.5,1385.96 362.6,1385.02 363.7,1384.10 364.9,1383.20 366.0,1382.32 367.2,1381.47 368.4,1380.64 369.6,1379.83 370.8,1379.05 372.1,1378.30 373.3,1377.57 374.6,1376.86 375.9,1376.18 377.2,1375.52 378.5,1374.89 379.8,1374.28 381.1,1373.69 382.5,1373.12 383.8,1372.58 385.2,1372.06 386.6,1371.55 388.0,1371.07 389.4,1370.61 390.8,1370.17 392.2,1369.74 393.7,1369.34 395.1,1368.95 396.5,1368.58 398.0,1368.22 399.5,1367.88 400.9,1367.56 402.4,1367.25 403.9,1366.96 405.4,1366.68 406.9,1366.42 408.4,1366.17 409.9,1365.93 411.4,1365.71 412.9,1365.50 414.4,1365.29 415.9,1365.10 417.4,1364.92 419.0,1364.76 420.5,1364.60 422.0,1364.44 423.5,1364.30 425.1,1364.17 426.6,1364.04 428.1,1363.92 429.6,1363.81 431.1,1363.71 432.7,1363.61 434.2,1363.51 435.7,1363.43 437.2,1363.34 438.7,1363.27 440.2,1363.20 441.7,1363.13 443.2,1363.07 444.8,1363.01 446.3,1362.96 447.8,1362.91 449.3,1362.87 450.8,1362.83 452.3,1362.80 453.8,1362.76 455.3,1362.73 456.8,1362.71 458.3,1362.69 459.8,1362.67 461.3,1362.65 462.8,1362.63 464.3,1362.62 465.8,1362.61 467.3,1362.60 468.8,1362.59 470.3,1362.58 471.8,1362.58 473.3,1362.57 474.8,1362.57 476.2,1362.57 477.7,1362.56 479.2,1362.56 480.7,1362.56 482.2,1362.55 483.7,1362.55 485.2,1362.54 486.7,1362.54 488.2,1362.53 489.7,1362.52 491.2,1362.52 492.7,1362.50 494.2,1362.49 495.7,1362.48 497.2,1362.46 498.7,1362.45 500.2,1362.43 501.7,1362.41 503.1,1362.39 504.6,1362.37 506.1,1362.34 507.6,1362.32 509.1,1362.29 510.6,1362.27 512.1,1362.24 513.6,1362.21 515.1,1362.18 516.6,1362.15 518.1,1362.12 519.6,1362.09 521.1,1362.05 522.6,1362.02 524.1,1361.99 525.6,1361.95 527.1,1361.92 528.6,1361.88 530.1,1361.85 531.6,1361.81 533.1,1361.78 534.6,1361.74 536.1,1361.70 537.6,1361.67 539.1,1361.63 540.6,1361.59 542.1,1361.56 543.5,1361.52 545.0,1361.48 546.5,1361.45 548.0,1361.41 549.5,1361.38 551.0,1361.34 552.5,1361.31 554.0,1361.27 555.5,1361.24 557.0,1361.20 558.5,1361.17 560.0,1361.14 561.5,1361.11 563.0,1361.08 564.5,1361.05 566.0,1361.02 567.5,1361.00 569.0,1361.00 570.5,1361.00 572.0,1361.00 573.5,1361.00 575.0,1361.00 576.5,1361.00 578.0,1361.00 579.5,1361.00 581.0,1361.00 582.5,1361.00 584.0,1361.00 585.5,1361.00 587.0,1361.00 588.5,1361.00 590.0,1361.00 591.5,1361.00 593.0,1361.00 594.5,1361.00 596.0,1361.00 597.5,1361.00 599.0,1361.00 600.5,1361.00 602.0,1361.00 603.5,1361.00 605.0,1361.00 606.5,1361.00 608.0,1361.00 609.5,1361.00 611.0,1361.00 612.5,1361.00 614.0,1361.00 615.5,1361.00 617.0,1361.00 618.5,1361.00 620.0,1361.00 2255.0,1361.00" stroke="#000" stroke-width="6" fill="none" stroke-linejoin="round"/>
<path d="M274.0,1562.00 274.5,1560.61 275.0,1559.21 275.4,1557.81 275.9,1556.41 276.4,1555.01 276.9,1553.61 277.3,1552.21 277.8,1550.80 278.3,1549.40 278.8,1547.99 279.3,1546.58 279.8,1545.17 280.3,1543.77 280.8,1542.36 281.3,1540.95 281.8,1539.54 282.3,1538.13 282.8,1536.72 283.3,1535.31 283.8,1533.90 284.3,1532.50 284.8,1531.09 285.3,1529.68 285.8,1528.28 286.4,1526.87 286.9,1525.47 287.4,1524.06 288.0,1522.66 288.5,1521.26 289.1,1519.86 289.6,1518.47 290.2,1517.07 290.8,1515.68 291.3,1514.29 291.9,1512.90 292.5,1511.51 293.1,1510.13 293.7,1508.74 294.3,1507.36 294.9,1505.99 295.5,1504.61 296.1,1503.24 296.7,1501.87 297.4,1500.51 298.0,1499.15 298.6,1497.79 299.3,1496.43 300.0,1495.08 300.6,1493.74 301.3,1492.39 302.0,1491.05 302.7,1489.72 303.4,1488.39 304.1,1487.06 304.8,1485.74 305.5,1484.42 306.2,1483.11 307.0,1481.80 307.7,1480.49 308.5,1479.19 309.2,1477.90 310.0,1476.61 310.8,1475.33 311.6,1474.05 312.4,1472.78 313.2,1471.51 314.0,1470.25 314.8,1469.00 315.6,1467.75 316.4,1466.51 317.3,1465.27 318.1,1464.04 319.0,1462.82 319.9,1461.60 320.7,1460.39 321.6,1459.19 322.5,1458.00 323.4,1456.81 324.3,1455.62 325.2,1454.45 326.2,1453.28 327.1,1452.12 328.1,1450.97 329.0,1449.83 330.0,1448.69 331.0,1447.56 331.9,1446.44 332.9,1445.33 333.9,1444.23 334.9,1443.13 336.0,1442.04 337.0,1440.97 338.0,1439.90 339.1,1438.84 340.2,1437.78 341.2,1436.74 342.3,1435.71 343.4,1434.68 344.5,1433.67 345.6,1432.66 346.7,1431.67 347.8,1430.68 348.9,1429.70 350.1,1428.74 351.2,1427.78 352.4,1426.83 353.5,1425.89 354.7,1424.97 355.9,1424.05 357.1,1423.14 358.3,1422.25 359.5,1421.36 360.7,1420.49 361.9,1419.62 363.1,1418.77 364.4,1417.93 365.6,1417.09 366.8,1416.27 368.1,1415.46 369.4,1414.67 370.6,1413.88 371.9,1413.10 373.2,1412.34 374.5,1411.59 375.7,1410.85 377.0,1410.12 378.4,1409.40 379.7,1408.70 381.0,1408.00 382.3,1407.32 383.6,1406.65 385.0,1406.00 386.3,1405.35 387.7,1404.72 389.0,1404.10 390.4,1403.50 391.7,1402.90 393.1,1402.32 394.5,1401.74 395.8,1401.18 397.2,1400.64 398.6,1400.10 400.0,1399.57 401.4,1399.06 402.8,1398.55 404.2,1398.06 405.6,1397.58 407.0,1397.11 408.4,1396.65 409.9,1396.20 411.3,1395.76 412.7,1395.33 414.1,1394.91 415.6,1394.51 417.0,1394.11 418.4,1393.72 419.9,1393.34 421.3,1392.98 422.8,1392.62 424.2,1392.27 425.7,1391.93 427.2,1391.61 428.6,1391.29 430.1,1390.98 431.5,1390.68 433.0,1390.38 434.5,1390.10 436.0,1389.83 437.4,1389.56 438.9,1389.31 440.4,1389.06 441.9,1388.82 443.3,1388.59 444.8,1388.37 446.3,1388.16 447.8,1387.95 449.3,1387.76 450.7,1387.57 452.2,1387.38 453.7,1387.21 455.2,1387.04 456.7,1386.89 458.2,1386.73 459.7,1386.59 461.2,1386.45 462.7,1386.32 464.1,1386.19 465.6,1386.07 467.1,1385.96 468.6,1385.85 470.1,1385.75 471.6,1385.65 473.1,1385.56 474.6,1385.47 476.1,1385.39 477.6,1385.31 479.1,1385.24 480.6,1385.17 482.1,1385.11 483.6,1385.05 485.1,1384.99 486.6,1384.94 488.1,1384.89 489.6,1384.85 491.1,1384.81 492.6,1384.77 494.1,1384.73 495.6,1384.70 497.1,1384.67 498.6,1384.64 500.1,1384.61 501.6,1384.59 503.1,1384.57 504.6,1384.55 506.1,1384.53 507.6,1384.51 509.1,1384.49 510.6,1384.48 512.1,1384.46 513.6,1384.45 515.1,1384.44 516.6,1384.42 518.1,1384.41 519.6,1384.40 521.1,1384.39 522.6,1384.37 524.1,1384.36 525.6,1384.35 527.1,1384.33 528.6,1384.32 530.1,1384.31 531.6,1384.29 533.1,1384.28 534.6,1384.26 536.1,1384.25 537.6,1384.24 539.1,1384.22 540.6,1384.21 542.1,1384.19 543.6,1384.18 545.1,1384.17 546.6,1384.15 548.1,1384.14 549.6,1384.12 551.1,1384.11 552.5,1384.09 554.0,1384.07 555.5,1384.06 557.0,1384.04 558.5,1384.03 560.0,1384.01 561.5,1383.99 563.0,1383.98 564.5,1383.96 566.0,1383.94 567.5,1383.92 569.0,1383.91 570.5,1383.89 572.0,1383.87 573.5,1383.85 574.9,1383.83 576.4,1383.81 577.9,1383.79 579.4,1383.77 580.9,1383.75 582.4,1383.73 583.9,1383.71 585.4,1383.69 586.9,1383.67 588.4,1383.65 589.9,1383.62 591.4,1383.60 592.9,1383.58 594.4,1383.56 595.9,1383.53 597.3,1383.51 598.8,1383.48 600.3,1383.46 601.8,1383.44 603.3,1383.41 604.8,1383.39 606.3,1383.36 607.8,1383.34 609.3,1383.31 610.8,1383.28 612.3,1383.26 613.8,1383.23 615.3,1383.21 616.8,1383.18 618.3,1383.15 619.8,1383.13 621.3,1383.10 622.8,1383.08 624.3,1383.05 625.7,1383.02 627.2,1383.00 628.7,1382.97 630.2,1382.94 631.7,1382.92 633.2,1382.89 634.7,1382.87 636.2,1382.84 637.7,1382.82 639.2,1382.79 640.7,1382.77 642.2,1382.74 643.7,1382.72 645.2,1382.69 646.7,1382.67 648.2,1382.64 649.7,1382.62 651.2,1382.60 652.7,1382.57 654.2,1382.55 655.7,1382.53 657.2,1382.50 658.7,1382.48 660.1,1382.46 661.6,1382.44 663.1,1382.42 664.6,1382.40 666.1,1382.38 667.6,1382.36 669.1,1382.34 670.6,1382.32 672.1,1382.31 673.6,1382.29 675.1,1382.27 676.6,1382.26 678.1,1382.24 679.6,1382.23 681.1,1382.21 682.6,1382.20 684.1,1382.18 685.6,1382.17 687.1,1382.16 688.6,1382.15 690.1,1382.14 691.6,1382.13 693.1,1382.12 694.6,1382.11 696.1,1382.10 697.6,1382.10 699.1,1382.10 700.5,1382.10 702.0,1382.10 703.5,1382.10 705.0,1382.10 706.5,1382.10 708.0,1382.10 709.5,1382.10 711.0,1382.10 712.5,1382.10 714.0,1382.10 715.5,1382.10 717.0,1382.10 718.5,1382.10 720.0,1382.10 2255.0,1382.10" stroke="#f00" stroke-width="6" fill="none" stroke-linejoin="round"/>
<path d="M274.0,1562.00 274.2,1560.51 274.4,1559.03 274.7,1557.54 274.9,1556.05 275.1,1554.57 275.3,1553.08 275.5,1551.59 275.7,1550.10 275.9,1548.62 276.1,1547.13 276.3,1545.64 276.5,1544.15 276.7,1542.66 276.9,1541.17 277.1,1539.69 277.3,1538.20 277.4,1536.71 277.6,1535.22 277.8,1533.73 278.0,1532.24 278.2,1530.75 278.3,1529.26 278.5,1527.78 278.7,1526.29 278.8,1524.80 279.0,1523.31 279.2,1521.82 279.3,1520.33 279.5,1518.84 279.7,1517.35 279.8,1515.86 280.0,1514.37 280.1,1512.88 280.3,1511.39 280.5,1509.90 280.6,1508.41 280.8,1506.92 280.9,1505.43 281.1,1503.94 281.2,1502.45 281.4,1500.96 281.5,1499.47 281.7,1497.98 281.8,1496.49 282.0,1495.00 282.1,1493.51 282.3,1492.02 282.5,1490.53 282.6,1489.04 282.8,1487.55 282.9,1486.06 283.1,1484.57 283.2,1483.08 283.4,1481.59 283.5,1480.10 283.7,1478.61 283.8,1477.12 284.0,1475.63 284.2,1474.14 284.3,1472.65 284.5,1471.16 284.7,1469.67 284.8,1468.18 285.0,1466.69 285.1,1465.20 285.3,1463.71 285.5,1462.22 285.7,1460.74 285.8,1459.25 286.0,1457.76 286.2,1456.27 286.4,1454.78 286.5,1453.29 286.7,1451.80 286.9,1450.31 287.1,1448.82 287.3,1447.34 287.5,1445.85 287.7,1444.36 287.8,1442.87 288.0,1441.38 288.2,1439.90 288.4,1438.41 288.7,1436.92 288.9,1435.43 289.1,1433.95 289.3,1432.46 289.5,1430.97 289.7,1429.48 289.9,1428.00 290.2,1426.51 290.4,1425.03 290.6,1423.54 290.9,1422.05 291.1,1420.57 291.4,1419.08 291.6,1417.60 291.9,1416.12 292.1,1414.63 292.4,1413.15 292.6,1411.67 292.9,1410.19 293.2,1408.71 293.4,1407.23 293.7,1405.75 294.0,1404.27 294.3,1402.79 294.6,1401.32 294.8,1399.84 295.1,1398.37 295.4,1396.90 295.7,1395.43 296.0,1393.96 296.4,1392.49 296.7,1391.02 297.0,1389.56 297.3,1388.09 297.6,1386.63 298.0,1385.17 298.3,1383.71 298.6,1382.25 299.0,1380.80 299.3,1379.34 299.7,1377.89 300.0,1376.44 300.4,1374.99 300.8,1373.54 301.1,1372.10 301.5,1370.65 301.9,1369.21 302.3,1367.78 302.7,1366.34 303.1,1364.90 303.5,1363.47 303.9,1362.04 304.3,1360.61 304.7,1359.19 305.1,1357.76 305.5,1356.34 306.0,1354.92 306.4,1353.50 306.8,1352.08 307.3,1350.67 307.7,1349.25 308.2,1347.84 308.7,1346.43 309.1,1345.02 309.6,1343.61 310.1,1342.21 310.6,1340.80 311.1,1339.40 311.6,1338.00 312.1,1336.60 312.6,1335.20 313.1,1333.80 313.7,1332.40 314.2,1331.00 314.8,1329.61 315.3,1328.22 315.9,1326.82 316.4,1325.43 317.0,1324.04 317.6,1322.65 318.2,1321.26 318.8,1319.87 319.4,1318.48 320.0,1317.09 320.6,1315.71 321.3,1314.32 321.9,1312.94 322.6,1311.55 323.2,1310.17 323.9,1308.79 324.6,1307.41 325.3,1306.04 326.0,1304.67 326.7,1303.31 327.4,1301.95 328.1,1300.60 328.8,1299.26 329.6,1297.92 330.4,1296.59 331.1,1295.27 331.9,1293.95 332.7,1292.65 333.5,1291.36 334.3,1290.07 335.2,1288.80 336.0,1287.54 336.9,1286.29 337.7,1285.06 338.6,1283.83 339.5,1282.62 340.4,1281.43 341.4,1280.25 342.3,1279.09 343.2,1277.94 344.2,1276.81 345.2,1275.69 346.2,1274.60 347.2,1273.52 348.2,1272.46 349.3,1271.42 350.3,1270.40 351.4,1269.40 352.5,1268.42 353.6,1267.47 354.7,1266.53 355.9,1265.62 357.0,1264.73 358.2,1263.87 359.4,1263.03 360.6,1262.21 361.8,1261.42 363.1,1260.65 364.3,1259.90 365.6,1259.17 366.9,1258.47 368.2,1257.79 369.5,1257.14 370.8,1256.51 372.1,1255.89 373.5,1255.31 374.8,1254.74 376.2,1254.20 377.6,1253.68 379.0,1253.18 380.4,1252.70 381.8,1252.25 383.2,1251.82 384.6,1251.41 386.0,1251.02 387.5,1250.65 388.9,1250.31 390.4,1249.98 391.9,1249.68 393.3,1249.40 394.8,1249.13 396.3,1248.88 397.8,1248.65 399.2,1248.44 400.7,1248.24 402.2,1248.06 403.7,1247.89 405.2,1247.73 406.8,1247.58 408.3,1247.45 409.8,1247.33 411.3,1247.21 412.8,1247.10 414.3,1247.01 415.8,1246.92 417.4,1246.83 418.9,1246.75 420.4,1246.68 421.9,1246.61 423.4,1246.54 425.0,1246.47 426.5,1246.41 428.0,1246.34 429.5,1246.28 431.0,1246.22 432.5,1246.16 434.1,1246.11 435.6,1246.05 437.1,1246.00 438.6,1245.94 440.1,1245.89 441.6,1245.84 443.1,1245.79 444.6,1245.74 446.1,1245.70 447.6,1245.65 449.1,1245.61 450.6,1245.56 452.2,1245.52 453.7,1245.48 455.2,1245.44 456.7,1245.40 458.2,1245.36 459.7,1245.33 461.2,1245.29 462.7,1245.26 464.2,1245.22 465.7,1245.19 467.2,1245.16 468.6,1245.13 470.1,1245.10 471.6,1245.07 473.1,1245.04 474.6,1245.01 476.1,1244.99 477.6,1244.96 479.1,1244.94 480.6,1244.91 482.1,1244.89 483.6,1244.87 485.1,1244.84 486.6,1244.82 488.1,1244.80 489.6,1244.78 491.1,1244.76 492.6,1244.74 494.0,1244.72 495.5,1244.70 497.0,1244.68 498.5,1244.66 500.0,1244.65 501.5,1244.63 503.0,1244.61 504.5,1244.60 506.0,1244.58 507.5,1244.56 509.0,1244.55 510.5,1244.53 512.0,1244.52 513.5,1244.50 515.0,1244.49 516.4,1244.47 517.9,1244.46 519.4,1244.44 520.9,1244.43 522.4,1244.42 523.9,1244.40 525.4,1244.39 526.9,1244.37 528.4,1244.36 529.9,1244.34 531.4,1244.33 532.9,1244.31 534.4,1244.30 535.9,1244.28 537.4,1244.27 538.9,1244.25 540.4,1244.24 541.9,1244.22 543.4,1244.20 544.9,1244.19 546.4,1244.17 547.9,1244.15 549.4,1244.14 550.9,1244.12 552.4,1244.10 554.0,1244.08 555.5,1244.06 557.0,1244.04 558.5,1244.02 560.0,1244.00 2255.0,1244.00" stroke="#00f" stroke-width="6" fill="none" stroke-linejoin="round"/>
</g>
<g id="inset">
<rect x="1347" y="700" width="771" height="187" fill="#fff"/>
<path d="M1732.5,701.5V885.5 M1924.5,701.5V885.5 M1349.5,771.5H2116.0 M1349.5,863.5H2116.0" stroke="#dfdfdf" stroke-width="3" fill="none"/>
<path d="M1541.0,701.5V885.5" stroke="#dfdfdf" stroke-width="4" fill="none"/>
<path d="M2116.0,701.5H1349.5V885.5H2116.0" stroke="#262626" stroke-width="3" fill="none" stroke-linecap="square"/>
<path d="M2116.0,700.0V887.0" stroke="#262626" stroke-width="4" fill="none"/>
<path d="M1732.5,885.5v-9.5 M1732.5,701.5v9.5 M1924.5,885.5v-9.5 M1924.5,701.5v9.5 M1349.5,771.5h9.5 M2116.0,771.5h-9.5 M1349.5,863.5h9.5 M2116.0,863.5h-9.5" stroke="#262626" stroke-width="3" fill="none"/>
<path d="M1541.0,885.5v-9.5 M1541.0,701.5v9.5" stroke="#262626" stroke-width="4" fill="none"/>
<path d="M1349.5,793H2113" stroke="#000" stroke-width="6"/>
<path d="M1349.5,809H2113" stroke="#f00" stroke-width="6"/>
<path d="M1349.5,812H2113" stroke="#00f" stroke-width="6"/>
</g>
<g id="ticklabels" font-family='"Liberation Sans", sans-serif' font-size="45.83" fill="#262626" style="font-kerning:none">
<text transform="translate(258.16,509.50) scale(0.97,1.05)" letter-spacing="0.000">0</text>
<text transform="translate(558.56,509.50) scale(0.97,1.05)" letter-spacing="1.083">200</text>
<text transform="translate(889.28,509.50) scale(0.97,1.05)" letter-spacing="0.869">400</text>
<text transform="translate(1218.04,509.50) scale(0.97,1.05)" letter-spacing="1.352">600</text>
<text transform="translate(1549.37,509.50) scale(0.97,1.05)" letter-spacing="0.823">800</text>
<text transform="translate(1867.31,509.50) scale(0.97,1.05)" letter-spacing="0.113">1000</text>
<text transform="translate(2198.41,509.50) scale(0.97,1.05)" letter-spacing="-0.162">1200</text>
<text transform="translate(258.16,1065.50) scale(0.97,1.05)" letter-spacing="0.000">0</text>
<text transform="translate(558.56,1065.50) scale(0.97,1.05)" letter-spacing="1.083">200</text>
<text transform="translate(889.28,1065.50) scale(0.97,1.05)" letter-spacing="0.869">400</text>
<text transform="translate(1218.04,1065.50) scale(0.97,1.05)" letter-spacing="1.352">600</text>
<text transform="translate(1549.37,1065.50) scale(0.97,1.05)" letter-spacing="0.823">800</text>
<text transform="translate(1867.31,1065.50) scale(0.97,1.05)" letter-spacing="0.113">1000</text>
<text transform="translate(2198.41,1065.50) scale(0.97,1.05)" letter-spacing="-0.162">1200</text>
<text transform="translate(258.16,1621.50) scale(0.97,1.05)" letter-spacing="0.000">0</text>
<text transform="translate(558.56,1621.50) scale(0.97,1.05)" letter-spacing="1.083">200</text>
<text transform="translate(889.28,1621.50) scale(0.97,1.05)" letter-spacing="0.869">400</text>
<text transform="translate(1218.04,1621.50) scale(0.97,1.05)" letter-spacing="1.352">600</text>
<text transform="translate(1549.37,1621.50) scale(0.97,1.05)" letter-spacing="0.823">800</text>
<text transform="translate(1867.31,1621.50) scale(0.97,1.05)" letter-spacing="0.113">1000</text>
<text transform="translate(2198.41,1621.50) scale(0.97,1.05)" letter-spacing="-0.162">1200</text>
<text transform="translate(157.06,165.50) scale(0.97,1.05)" letter-spacing="0.624">0.04</text>
<text transform="translate(157.06,315.50) scale(0.97,1.05)" letter-spacing="0.601">0.02</text>
<text transform="translate(228.26,466.40) scale(0.97,1.05)" letter-spacing="0.000">0</text>
<text transform="translate(157.06,742.30) scale(0.97,1.05)" letter-spacing="-1.861">0.01</text>
<text transform="translate(130.06,882.30) scale(0.97,1.05)" letter-spacing="0.401">0.005</text>
<text transform="translate(228.26,1022.40) scale(0.97,1.05)" letter-spacing="0.000">0</text>
<text transform="translate(227.54,1281.70) scale(0.97,1.05)" letter-spacing="0.000">6</text>
<text transform="translate(228.98,1379.90) scale(0.97,1.05)" letter-spacing="0.000">4</text>
<text transform="translate(227.56,1479.10) scale(0.97,1.05)" letter-spacing="0.000">2</text>
<text transform="translate(228.26,1578.40) scale(0.97,1.05)" letter-spacing="0.000">0</text>
<text transform="translate(1291.81,944.40) scale(0.97,1.05)" letter-spacing="0.628">1180</text>
<text transform="translate(1484.41,944.40) scale(0.97,1.05)" letter-spacing="-0.083">1185</text>
<text transform="translate(1675.21,944.40) scale(0.97,1.05)" letter-spacing="0.456">1190</text>
<text transform="translate(1866.61,944.40) scale(0.97,1.05)" letter-spacing="0.604">1195</text>
<text transform="translate(2059.21,944.40) scale(0.97,1.05)" letter-spacing="0.078">1200</text>
<text transform="translate(1115.76,787.70) scale(0.97,1.05)" letter-spacing="0.652">0.011349</text>
<text transform="translate(1115.76,879.60) scale(0.97,1.05)" letter-spacing="0.538">0.011348</text>
<text transform="scale(0.97,1.05)"><tspan x="285.09" y="1177.11" font-size="50.0">×</tspan><tspan x="321.25" y="1171.62" letter-spacing="-1.366">10</tspan><tspan x="378.86" y="1150.10" font-size="35.0" letter-spacing="1.801">-5</tspan></text>
</g>
<g id="labels" font-family='"Liberation Serif", serif' style="font-kerning:none">
<text x="1082.13 1137.73 1185.29 1226.22 1244.43 1262.44 1295.11 1316.33 1342.90 1375.52 1399.51 1428.29" y="97.80" font-size="67.0" fill="#000" stroke="#000" stroke-width="1.0">MAE integral</text>
<text x="1092.53 1147.71 1169.73 1218.11 1234.43 1252.44 1285.11 1306.33 1332.90 1365.52 1389.51 1418.29" y="652.90" font-size="67.0" fill="#000" stroke="#000" stroke-width="1.0">MIA integral</text>
<text x="1081.13 1139.54 1180.41 1228.79 1245.53 1263.54 1296.21 1317.43 1344.00 1376.62 1400.61 1429.39" y="1208.90" font-size="67.0" fill="#000" stroke="#000" stroke-width="1.0">MTV integral</text>
<text x="1151.84 1193.08 1210.61 1259.83 1289.57 1309.50 1330.45 1355.44" y="577.00" font-size="67.0" fill="#262626" stroke="#262626" stroke-width="0.6">Time (s)</text>
<text x="1151.84 1193.08 1210.61 1259.83 1289.57 1309.50 1330.45 1355.44" y="1133.00" font-size="67.0" fill="#262626" stroke="#262626" stroke-width="0.6">Time (s)</text>
<text x="1151.84 1193.08 1210.61 1259.83 1289.57 1309.50 1330.45 1355.44" y="1689.00" font-size="67.0" fill="#262626" stroke="#262626" stroke-width="0.6">Time (s)</text>
<text transform="translate(124.80,366.00) rotate(-90)" x="4.78 59.88 105.09" y="0" font-size="67.0" fill="#262626" stroke="#262626" stroke-width="0.6">MAE</text>
<text transform="translate(98.10,911.90) rotate(-90)" x="1.93 57.86 79.63" y="0" font-size="67.0" fill="#262626" stroke="#262626" stroke-width="0.6">MIA</text>
<text transform="translate(196.90,1478.10) rotate(-90)" x="2.43 60.59 101.51" y="0" font-size="67.0" fill="#262626" stroke="#262626" stroke-width="0.6">MTV</text>
</g>
</svg>
</body></html>
